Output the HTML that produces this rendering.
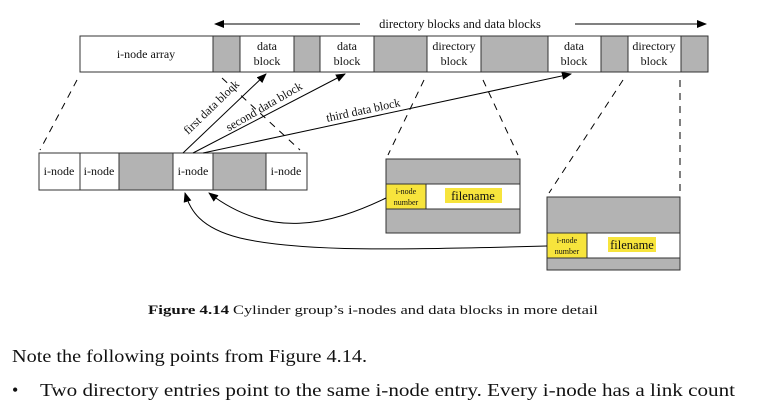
<!DOCTYPE html>
<html><head><meta charset="utf-8"><style>
html,body{margin:0;padding:0;background:#fff;}
svg{display:block;}
text{font-family:"Liberation Serif",serif;fill:#111;}
</style></head><body>
<svg width="762" height="410" viewBox="0 0 762 410" xmlns="http://www.w3.org/2000/svg">
<defs>
<marker id="ah" markerWidth="10" markerHeight="8" refX="9" refY="4" orient="auto" markerUnits="userSpaceOnUse">
<path d="M0,0 L10,4 L0,8 z" fill="#000"/></marker>
</defs>
<line x1="360" y1="24" x2="215" y2="24" stroke="#000" stroke-width="1" marker-end="url(#ah)"/>
<line x1="575" y1="24" x2="706" y2="24" stroke="#000" stroke-width="1" marker-end="url(#ah)"/>
<text x="460" y="28" font-size="12.5" text-anchor="middle">directory blocks and data blocks</text>
<g stroke="#333" stroke-width="1">
<rect x="80" y="36" width="133" height="36" fill="#fff"/>
<rect x="213" y="36" width="27" height="36" fill="#b3b3b3"/>
<rect x="240" y="36" width="54" height="36" fill="#fff"/>
<rect x="294" y="36" width="26" height="36" fill="#b3b3b3"/>
<rect x="320" y="36" width="54" height="36" fill="#fff"/>
<rect x="374" y="36" width="53" height="36" fill="#b3b3b3"/>
<rect x="427" y="36" width="54" height="36" fill="#fff"/>
<rect x="481" y="36" width="67" height="36" fill="#b3b3b3"/>
<rect x="548" y="36" width="53" height="36" fill="#fff"/>
<rect x="601" y="36" width="27" height="36" fill="#b3b3b3"/>
<rect x="628" y="36" width="53" height="36" fill="#fff"/>
<rect x="681" y="36" width="27" height="36" fill="#b3b3b3"/>
</g>
<g font-size="12" text-anchor="middle">
<text x="146" y="58">i-node array</text>
<text x="267" y="50">data</text><text x="267" y="65">block</text>
<text x="347" y="50">data</text><text x="347" y="65">block</text>
<text x="454" y="50">directory</text><text x="454" y="65">block</text>
<text x="574" y="50">data</text><text x="574" y="65">block</text>
<text x="654" y="50">directory</text><text x="654" y="65">block</text>
</g>
<g stroke="#000" stroke-width="1" stroke-dasharray="7,6" fill="none">
<line x1="77" y1="80" x2="40" y2="150"/>
<line x1="222" y1="78" x2="300" y2="150"/>
<line x1="424" y1="80" x2="388" y2="155"/>
<line x1="483" y1="80" x2="518" y2="155"/>
<line x1="623" y1="80" x2="549" y2="193"/>
<line x1="680" y1="80" x2="680" y2="195"/>
</g>
<g stroke="#333" stroke-width="1">
<rect x="39" y="153" width="41" height="37" fill="#fff"/>
<rect x="80" y="153" width="39" height="37" fill="#fff"/>
<rect x="119" y="153" width="54" height="37" fill="#b3b3b3"/>
<rect x="173" y="153" width="40" height="37" fill="#fff"/>
<rect x="213" y="153" width="53" height="37" fill="#b3b3b3"/>
<rect x="266" y="153" width="41" height="37" fill="#fff"/>
</g>
<g font-size="12" text-anchor="middle">
<text x="59" y="175">i-node</text><text x="99" y="175">i-node</text>
<text x="193" y="175">i-node</text><text x="286" y="175">i-node</text>
</g>
<g stroke="#000" stroke-width="1" fill="none">
<line x1="183" y1="153" x2="266" y2="74" marker-end="url(#ah)"/>
<line x1="193" y1="153" x2="345" y2="74" marker-end="url(#ah)"/>
<line x1="203" y1="153" x2="571" y2="74" marker-end="url(#ah)"/>
</g>
<g font-size="12">
<text transform="translate(214,110) rotate(-44)" text-anchor="middle">first data block</text>
<text transform="translate(266,110) rotate(-30)" text-anchor="middle">second data block</text>
<text transform="translate(364,114) rotate(-12)" text-anchor="middle">third data block</text>
</g>
<g stroke="#333" stroke-width="1">
<rect x="386" y="159" width="134" height="74" fill="#b3b3b3"/>
<rect x="386" y="184" width="134" height="25" fill="#fff"/>
<rect x="386" y="184" width="40" height="25" fill="#f7e43c"/>
<rect x="547" y="197" width="133" height="73" fill="#b3b3b3"/>
<rect x="547" y="233" width="133" height="25" fill="#fff"/>
<rect x="547" y="233" width="40" height="25" fill="#f7e43c"/>
</g>
<rect x="445" y="188" width="57" height="15" fill="#f7e43c"/>
<rect x="608" y="237" width="48" height="15" fill="#f7e43c"/>
<g font-size="8" text-anchor="middle">
<text x="406" y="194">i-node</text><text x="406" y="205">number</text>
<text x="567" y="243">i-node</text><text x="567" y="254">number</text>
</g>
<g font-size="12.5" text-anchor="middle">
<text x="473" y="200">filename</text>
<text x="632" y="249">filename</text>
</g>
<g stroke="#000" stroke-width="1" fill="none">
<path d="M386,198 C330,225 270,240 209,193" marker-end="url(#ah)"/>
<path d="M547,246 C400,250 300,252 240,238 C200,228 190,210 185,193" marker-end="url(#ah)"/>
</g>
<text x="148" y="314" font-size="13" font-weight="bold" textLength="81" lengthAdjust="spacingAndGlyphs">Figure 4.14</text>
<text x="233" y="314" font-size="13" textLength="365" lengthAdjust="spacingAndGlyphs">Cylinder group’s i-nodes and data blocks in more detail</text>
<text x="12" y="362" font-size="18" textLength="355" lengthAdjust="spacingAndGlyphs">Note the following points from Figure 4.14.</text>
<text x="12" y="396" font-size="18">•</text>
<text x="40" y="396" font-size="18" textLength="695" lengthAdjust="spacingAndGlyphs">Two directory entries point to the same i-node entry.  Every i-node has a link count</text>
</svg>
</body></html>
